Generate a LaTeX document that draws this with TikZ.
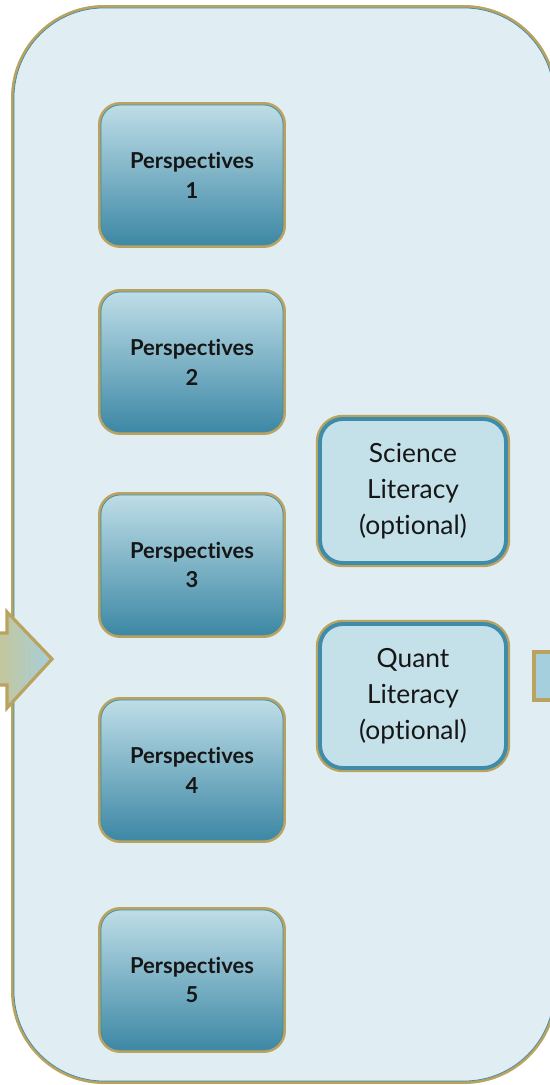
\documentclass[tikz,border=0pt]{standalone}
\usepackage{fontspec}
\setmainfont{Lato}[Ligatures=NoCommon]
\definecolor{dgPale}{HTML}{E0EDF3}
\definecolor{dgGold}{HTML}{B9A35F}
\definecolor{dgBlue}{HTML}{3F8BAA}
\definecolor{dgTop}{HTML}{BEDDE7}
\definecolor{dgBottom}{HTML}{3D88A5}
\definecolor{dgLit}{HTML}{C4E0E9}
\definecolor{dgKhaki}{HTML}{CCC48A}
\definecolor{dgArrow}{HTML}{A5CFDD}
\definecolor{dgText}{HTML}{161616}
\usetikzlibrary{calc,positioning}

\tikzset{
  persbox/.style={preaction={draw=dgGold, line width=3.4pt}, draw=dgBlue, line width=0.4pt,
    top color=dgTop, bottom color=dgBottom, rounded corners=11pt,
    minimum width=3.64cm, minimum height=2.8cm, inner sep=0pt, align=center,
    text=dgText, font=\fontsize{12.5}{17}\selectfont\bfseries},
  litbox/.style={preaction={draw=dgGold, line width=4.8pt}, draw=dgBlue, line width=2.2pt,
    fill=dgLit, rounded corners=13pt,
    minimum width=3.72cm, minimum height=2.88cm, inner sep=0pt, align=center,
    text=dgText, font=\fontsize{15}{20.4}\selectfont}
}

\begin{document}
\begin{tikzpicture}
  \useasboundingbox (0,0) rectangle (11,21.7);
  % outer panel
  \draw[preaction={draw=dgGold, line width=3.4pt}, draw=dgBlue, line width=0.4pt,
    fill=dgPale, rounded corners=1.8cm] (0.28,0.08) rectangle (11.08,21.54);

  % incoming and outgoing arrows
  \shade[left color=dgKhaki, right color=dgArrow, draw=dgGold, line width=1.8pt, line join=miter]
    (-0.3,9.04) -- (0.14,9.04) -- (0.14,9.46) -- (1.04,8.52) -- (0.14,7.54) -- (0.14,8.0) -- (-0.3,8.0) -- cycle;
  \draw[fill=dgArrow, draw=dgGold, line width=1.8pt] (10.68,7.7) rectangle (11.4,8.66);

  \node[persbox] (pers1) at (3.84,18.2) {Perspectives\\1};
  \node[persbox] (pers2) at (3.84,14.46) {Perspectives\\2};
  \node[persbox] (pers3) at (3.84,10.4) {Perspectives\\3};
  \node[persbox] (pers4) at (3.84,6.3) {Perspectives\\4};
  \node[persbox] (pers5) at (3.84,2.1) {Perspectives\\5};

  \node[litbox] (science) at (8.26,11.88) {Science\\Literacy\\(optional)};
  \node[litbox] (quant) at (8.26,7.78) {Quant\\Literacy\\(optional)};
\end{tikzpicture}
\end{document}
